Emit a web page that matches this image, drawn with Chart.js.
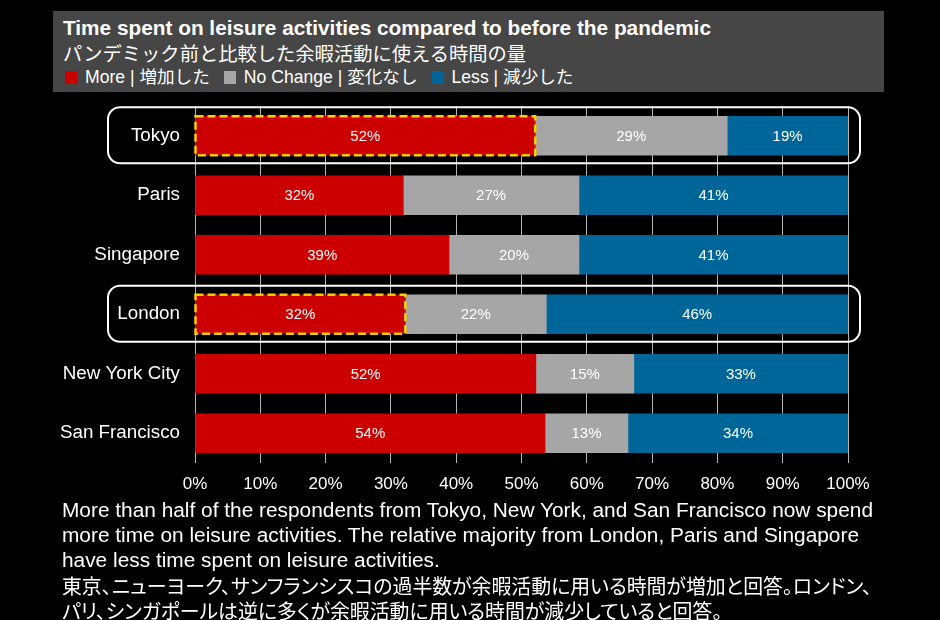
<!DOCTYPE html>
<html>
<head>
<meta charset="utf-8">
<script src="https://cdn.jsdelivr.net/npm/chart.js@4.4.1/dist/chart.umd.min.js"></script>
<style>
  body { margin:0; background:#000; width:940px; height:620px; overflow:hidden; position:relative;
         font-family:"Liberation Sans","Noto Sans CJK JP",Arial,sans-serif; color:#fff; }
  .head { position:absolute; left:53px; top:11px; width:831px; height:81px; background:#464646; }
  .title { position:absolute; left:10px; top:5px; font-weight:bold; font-size:20.8px; line-height:24px; white-space:nowrap; }
  .sub { position:absolute; left:10px; top:31px; font-size:19.3px; line-height:22px; white-space:nowrap;
         font-family:"Noto Sans CJK JP",sans-serif; }
  .legend { position:absolute; left:12px; top:55px; display:flex; font-size:17.6px; line-height:22px; white-space:nowrap; }
  .legend span.it { display:flex; align-items:center; margin-right:14px; }
  .legend i { display:inline-block; width:12px; height:13px; margin-right:8px; }
  .chartbox { position:absolute; left:0; top:100px; width:940px; height:400px; }
  .note { position:absolute; left:62px; top:498px; font-size:20px; line-height:25px; }
  .note div { white-space:nowrap; width:max-content; transform-origin:0 50%; }
  .note .jp { font-family:"Noto Sans CJK JP",sans-serif; font-size:20px; font-feature-settings:"palt"; }
</style>
</head>
<body>

<div class="head">
  <div class="title">Time spent on leisure activities compared to before the pandemic</div>
  <div class="sub">パンデミック前と比較した余暇活動に使える時間の量</div>
  <div class="legend" id="legend"></div>
</div>

<div class="chartbox"><canvas id="chart" width="940" height="400"></canvas></div>

<div class="note" id="note">
  <div class="en">More than half of the respondents from Tokyo, New York, and San Francisco now spend</div>
  <div class="en">more time on leisure activities. The relative majority from London, Paris and Singapore</div>
  <div class="en">have less time spent on leisure activities.</div>
  <div class="jp">東京、ニューヨーク、サンフランシスコの過半数が余暇活動に用いる時間が増加と回答。ロンドン、</div>
  <div class="jp">パリ、シンガポールは逆に多くが余暇活動に用いる時間が減少していると回答。</div>
</div>

<script>
// ── data ─────────────────────────────────────────
const cities    = ['Tokyo', 'Paris', 'Singapore', 'London', 'New York City', 'San Francisco'];
const more      = [52.1, 31.9, 38.9, 32.2, 52.2, 53.6];
const noChange  = [29.4, 26.9, 19.9, 21.6, 15.0, 12.7];
const less      = [18.5, 41.2, 41.2, 46.2, 32.8, 33.7];
const seriesNames = ['More | 増加した', 'No Change | 変化なし', 'Less | 減少した'];
const highlight = ['Tokyo', 'London'];

const RED = '#cc0000', GRAY = '#a6a6a6', BLUE = '#006699';
const colors = [RED, GRAY, BLUE];

// legend in the header
document.getElementById('legend').innerHTML = seriesNames.map((n, i) =>
  `<span class="it"><i style="background:${colors[i]}"></i>${n}</span>`).join('');

// value labels inside each segment
const segLabels = {
  id: 'segLabels',
  afterDatasetsDraw(chart) {
    const ctx = chart.ctx;
    ctx.save();
    ctx.fillStyle = '#fff';
    ctx.font = '15px "Liberation Sans", Arial, sans-serif';
    ctx.textAlign = 'center';
    ctx.textBaseline = 'middle';
    chart.data.datasets.forEach((ds, di) => {
      chart.getDatasetMeta(di).data.forEach((bar, i) => {
        ctx.fillText(Math.round(ds.data[i]) + '%', (bar.x + bar.base) / 2, bar.y + 1);
      });
    });
    ctx.restore();
  }
};

// rounded frame around highlighted rows + dashed box on the red part
const rowFrames = {
  id: 'rowFrames',
  afterDatasetsDraw(chart) {
    const ctx = chart.ctx, xs = chart.scales.x, ys = chart.scales.y;
    const redMeta = chart.getDatasetMeta(0);
    ctx.save();
    highlight.forEach(name => {
      const i = cities.indexOf(name);
      const cy = ys.getPixelForValue(i);
      const x0 = chart.chartArea.left - 87, x1 = xs.getPixelForValue(100) + 12;
      ctx.strokeStyle = '#fff';
      ctx.lineWidth = 2;
      ctx.setLineDash([]);
      ctx.beginPath();
      ctx.roundRect(x0, cy - 28.5, x1 - x0, 56, 12);
      ctx.stroke();

      const bar = redMeta.data[i];
      const h = bar.height;
      ctx.strokeStyle = '#ffcc00';
      ctx.lineWidth = 2.5;
      ctx.setLineDash([8, 4]);
      ctx.strokeRect(bar.base, bar.y - h / 2, bar.x - bar.base, h);
    });
    ctx.restore();
  }
};

new Chart(document.getElementById('chart'), {
  type: 'bar',
  data: {
    labels: cities,
    datasets: [
      { label: seriesNames[0], data: more,     backgroundColor: RED },
      { label: seriesNames[1], data: noChange, backgroundColor: GRAY },
      { label: seriesNames[2], data: less,     backgroundColor: BLUE },
    ]
  },
  options: {
    indexAxis: 'y',
    responsive: false,
    animation: false,
    barThickness: 39,
    layout: { padding: { top: 6, right: 92, left: 0, bottom: 0 } },
    plugins: { legend: { display: false }, tooltip: { enabled: false } },
    scales: {
      x: {
        stacked: true, min: 0, max: 100,
        grid: { color: '#b4b4b4', lineWidth: 1, drawTicks: false },
        border: { display: false },
        ticks: { stepSize: 10, color: '#fff', padding: 11,
                 font: { size: 17, family: '"Liberation Sans", Arial, sans-serif' },
                 callback: v => v + '%' },
        afterFit: s => { s.height = 37; }
      },
      y: {
        stacked: true,
        grid: { display: false, drawTicks: false },
        border: { display: false },
        ticks: { color: '#fff', padding: 15,
                 font: { size: 18.8, family: '"Liberation Sans", Arial, sans-serif' } },
        afterFit: s => { s.width = 195; s.paddingTop = 0; s.paddingBottom = 0; }
      }
    }
  },
  plugins: [segLabels, rowFrames]
});

// stretch the footnote lines to the reference's line width
const rows = [...document.querySelectorAll('#note div')];
const fitTo = (cls, target) => {
  const list = rows.filter(d => d.classList.contains(cls));
  const w = list[0].getBoundingClientRect().width;
  list.forEach(d => { d.style.transform = `scaleX(${target / w})`; });
};
fitTo('en', 811);
fitTo('jp', 810);
</script>
</body>
</html>
